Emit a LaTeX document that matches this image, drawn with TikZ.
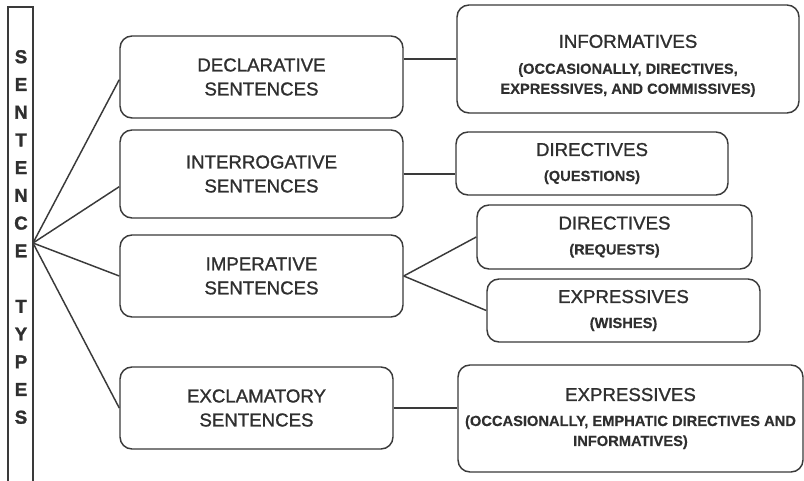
\documentclass[tikz,border=0pt]{standalone}
\usepackage{fontspec}
% slightly emboldened strokes give the heavier print look of the labels
\setmainfont{Liberation Sans}[UprightFeatures={FakeBold=1.1},BoldFeatures={FakeBold=0.3}]
\newfontfamily\barfont{Liberation Sans}[BoldFeatures={FakeBold=1.5}]
\usetikzlibrary{calc}
\definecolor{ink}{HTML}{3A3A3A}
\definecolor{txt}{HTML}{2F2F2F}
% regular-weight heading line inside a bold act box
\newcommand\acthead[1]{{\fontsize{14}{15}\selectfont\mdseries #1}}
\begin{document}
\begin{tikzpicture}[x=0.75pt,y=-0.75pt,
  sz/.style 2 args={minimum width=#1*0.75pt,minimum height=#2*0.75pt},
  box/.style={draw=ink,line width=1.1pt,rounded corners=9pt,inner sep=0pt,
    align=center,text=txt},
  kind/.style={box,font=\fontsize{14}{18}\selectfont},
  act/.style={box,font=\fontsize{11}{15}\selectfont\bfseries},
  link/.style={draw=ink,line width=1.1pt}]
\useasboundingbox[fill=white] (0,0) rectangle (804,481);

% vertical title bar
\draw[ink,line width=1.1pt] (8,484) -- (8,7) -- (33,7) -- (33,484);
\node[text=txt,align=center,font=\fontsize{14}{20.8}\barfont\bfseries]
  (title) at (21,237)
  {S\\E\\N\\T\\E\\N\\C\\E\\\mbox{}\\T\\Y\\P\\E\\S};
\coordinate (fan) at (33,243);

% sentence types
\node[kind,sz={283}{82}] (decl)  at (261.5,77)  {DECLARATIVE\\SENTENCES};
\node[kind,sz={283}{88}] (inter) at (261.5,174) {INTERROGATIVE\\SENTENCES};
\node[kind,sz={283}{82}] (imper) at (261.5,276) {IMPERATIVE\\SENTENCES};
\node[kind,sz={273}{82}] (excl)  at (256.5,408) {EXCLAMATORY\\SENTENCES};

% speech acts
\node[act,sz={342}{108}] (info) at (628,59)
  {\rule{0pt}{20pt}\acthead{INFORMATIVES}\\[4.5pt](OCCASIONALLY, DIRECTIVES,\\EXPRESSIVES, AND COMMISSIVES)};
\node[act,sz={272}{63}] (dirq) at (592,163.5)
  {\acthead{DIRECTIVES}\\[3.75pt](QUESTIONS)};
\node[act,sz={275}{64}] (dirr) at (614.5,237)
  {\acthead{DIRECTIVES}\\[3.75pt](REQUESTS)};
\node[act,sz={273}{63}] (expw) at (623.5,310.5)
  {\acthead{EXPRESSIVES}\\[3.75pt](WISHES)};
\node[act,sz={345}{107}] (expe) at (630.5,418.5)
  {\acthead{EXPRESSIVES}\\[3.75pt](OCCASIONALLY, EMPHATIC DIRECTIVES AND\\INFORMATIVES)};

% connectors
\draw[link] (fan) -- ([yshift=-2pt]decl.west);
\draw[link] (fan) -- ([yshift=-9.5pt]inter.west);
\draw[link] (fan) -- (imper.west);
\draw[link] (fan) -- (excl.west);
\draw[link] (info.west) -- (info.west -| decl.east);
\draw[link] (inter.east) -- (inter.east -| dirq.west);
\draw[link] (imper.east) -- (dirr.west);
\draw[link] (imper.east) -- (expw.west);
\draw[link] (excl.east) -- (excl.east -| expe.west);
\end{tikzpicture}
\end{document}
